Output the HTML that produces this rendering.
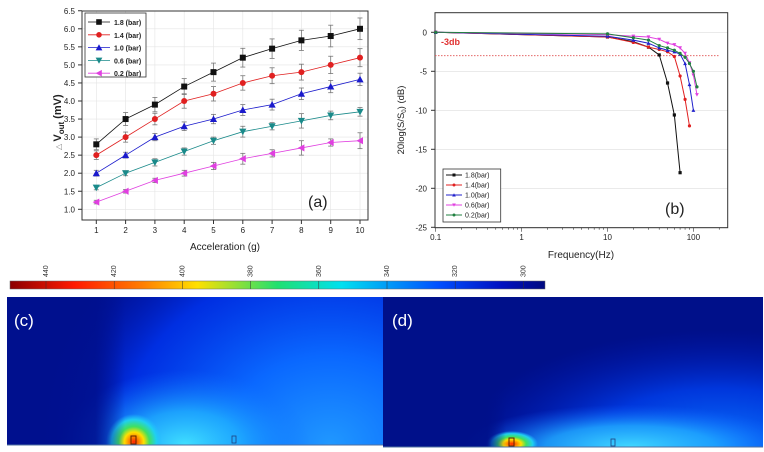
<!DOCTYPE html>
<html><head><meta charset="utf-8"><style>
body{margin:0;background:#fff;}
svg{display:block;font-family:"Liberation Sans",sans-serif;}
</style></head><body>
<svg id="fig" width="764" height="452" viewBox="0 0 764 452" xmlns="http://www.w3.org/2000/svg">
<defs>
<linearGradient id="cbar" x1="0" x2="1" y1="0" y2="0">
<stop offset="0" stop-color="#8b0000"/><stop offset="0.12" stop-color="#ff1a00"/><stop offset="0.25" stop-color="#ff8000"/><stop offset="0.35" stop-color="#ffe000"/><stop offset="0.5" stop-color="#20e070"/><stop offset="0.62" stop-color="#00e0f0"/><stop offset="0.8" stop-color="#0050ff"/><stop offset="0.92" stop-color="#0010c0"/><stop offset="1" stop-color="#000a80"/>
</linearGradient>
<radialGradient id="cBig" gradientUnits="userSpaceOnUse" cx="330" cy="445" r="300" gradientTransform="translate(330 445) scale(1 0.85) translate(-330 -445)">
<stop offset="0" stop-color="#2098ff"/><stop offset="0.35" stop-color="#0a68ff"/><stop offset="0.7" stop-color="#0034f0" stop-opacity="0.85"/><stop offset="1" stop-color="#0018c0" stop-opacity="0"/>
</radialGradient>
<radialGradient id="cMid" gradientUnits="userSpaceOnUse" cx="185" cy="445" r="125" gradientTransform="translate(185 445) scale(1 0.6) translate(-185 -445)">
<stop offset="0" stop-color="#40e0ff"/><stop offset="0.45" stop-color="#20b0ff" stop-opacity="0.85"/><stop offset="1" stop-color="#1070ff" stop-opacity="0"/>
</radialGradient>
<radialGradient id="cHot" gradientUnits="userSpaceOnUse" cx="134" cy="442" r="28">
<stop offset="0" stop-color="#ff2000"/><stop offset="0.2" stop-color="#ff9000"/><stop offset="0.35" stop-color="#ffe000"/><stop offset="0.55" stop-color="#40e060"/><stop offset="0.8" stop-color="#20d0f0"/><stop offset="1" stop-color="#20c0ff" stop-opacity="0"/>
</radialGradient>
<linearGradient id="cLeft" gradientUnits="userSpaceOnUse" x1="7" x2="125" y1="0" y2="0">
<stop offset="0" stop-color="#00108e"/><stop offset="0.75" stop-color="#00108e" stop-opacity="0.85"/><stop offset="1" stop-color="#00108e" stop-opacity="0"/>
</linearGradient>
<radialGradient id="dBig" gradientUnits="userSpaceOnUse" cx="720" cy="447" r="260" gradientTransform="translate(720 447) scale(1 0.45) translate(-720 -447)">
<stop offset="0" stop-color="#0a78ff"/><stop offset="0.5" stop-color="#0040f0" stop-opacity="0.8"/><stop offset="1" stop-color="#0018c0" stop-opacity="0"/>
</radialGradient>
<radialGradient id="dMid" gradientUnits="userSpaceOnUse" cx="630" cy="447" r="170" gradientTransform="translate(630 447) scale(1 0.25) translate(-630 -447)">
<stop offset="0" stop-color="#40d8ff"/><stop offset="0.5" stop-color="#20a8ff" stop-opacity="0.85"/><stop offset="1" stop-color="#1060ff" stop-opacity="0"/>
</radialGradient>
<radialGradient id="dHot" gradientUnits="userSpaceOnUse" cx="512" cy="444" r="26" gradientTransform="translate(512 444) scale(1 0.5) translate(-512 -444)">
<stop offset="0" stop-color="#ff2000"/><stop offset="0.2" stop-color="#ff9000"/><stop offset="0.35" stop-color="#ffe000"/><stop offset="0.55" stop-color="#40e060"/><stop offset="0.8" stop-color="#20d0f0"/><stop offset="1" stop-color="#20c0ff" stop-opacity="0"/>
</radialGradient>
<linearGradient id="dLeft" gradientUnits="userSpaceOnUse" x1="383" x2="506" y1="0" y2="0">
<stop offset="0" stop-color="#00108a"/><stop offset="0.85" stop-color="#00108a" stop-opacity="0.9"/><stop offset="1" stop-color="#00108a" stop-opacity="0"/>
</linearGradient>
</defs>

<!-- colorbar -->
<g>
<rect x="10" y="281" width="535" height="8" fill="url(#cbar)" stroke="#666" stroke-width="0.5"/>
<g id="cbticks" font-size="7" fill="#333"></g>
</g>

<!-- panel c -->
<g>
<rect x="7" y="297" width="376" height="148" fill="#00108e"/>
<rect x="7" y="297" width="376" height="148" fill="url(#cBig)"/>
<rect x="7" y="297" width="376" height="148" fill="url(#cMid)"/>
<rect x="7" y="297" width="376" height="148" fill="url(#cHot)"/>
<rect x="7" y="297" width="125" height="148" fill="url(#cLeft)"/>
<rect x="131" y="436" width="5" height="8" fill="none" stroke="#602000" stroke-width="1"/>
<rect x="232" y="436" width="4" height="7" fill="none" stroke="#204080" stroke-width="0.8"/>
<line x1="7" y1="445" x2="383" y2="445" stroke="#5070a0"/>
<text x="14" y="326" font-size="17" fill="#fff">(c)</text>
</g>
<!-- panel d -->
<g>
<rect x="383" y="297" width="380" height="150" fill="#00108a"/>
<rect x="383" y="297" width="380" height="150" fill="url(#dBig)"/>
<rect x="383" y="297" width="380" height="150" fill="url(#dMid)"/>
<rect x="383" y="297" width="380" height="150" fill="url(#dHot)"/>
<rect x="383" y="297" width="124" height="150" fill="url(#dLeft)"/>
<rect x="509" y="438" width="5" height="8" fill="none" stroke="#602000" stroke-width="1"/>
<rect x="611" y="439" width="4" height="7" fill="none" stroke="#204080" stroke-width="0.8"/>
<line x1="383" y1="447" x2="763" y2="447" stroke="#5070a0"/>
<text x="392" y="326" font-size="17" fill="#fff">(d)</text>
</g>

<g id="chartA"></g>
<g id="chartB"></g>
</svg>
<script>
// ---------- chart (a) data ----------
const accelCategories = [1,2,3,4,5,6,7,8,9,10];
const aSeriesNames = ["1.8 (bar)","1.4 (bar)","1.0 (bar)","0.6 (bar)","0.2 (bar)"];
const v18 = [2.8,3.5,3.9,4.4,4.8,5.2,5.45,5.68,5.8,6.0];
const v14 = [2.5,3.0,3.5,4.0,4.2,4.5,4.7,4.8,5.0,5.2];
const v10 = [2.0,2.5,3.0,3.3,3.5,3.75,3.9,4.2,4.4,4.6];
const v06 = [1.6,2.0,2.3,2.6,2.9,3.15,3.3,3.45,3.6,3.7];
const v02 = [1.2,1.5,1.8,2.0,2.2,2.4,2.55,2.7,2.85,2.9];
const e18 = [0.15,0.18,0.2,0.22,0.25,0.26,0.27,0.28,0.3,0.3];
const e14 = [0.12,0.14,0.16,0.2,0.2,0.2,0.22,0.22,0.24,0.25];
const e10 = [0.08,0.08,0.1,0.12,0.13,0.15,0.15,0.16,0.17,0.17];
const e06 = [0.06,0.07,0.1,0.1,0.1,0.15,0.1,0.2,0.12,0.12];
const e02 = [0.05,0.05,0.06,0.08,0.1,0.15,0.1,0.2,0.1,0.22];
const aYTicks = [1.0,1.5,2.0,2.5,3.0,3.5,4.0,4.5,5.0,5.5,6.0,6.5];
// ---------- chart (b) data ----------
const bSeriesNames = ["1.8(bar)","1.4(bar)","1.0(bar)","0.6(bar)","0.2(bar)"];
const f18 = [0.1,10,20,30,40,50,60,70];
const d18 = [0,-0.6,-1.2,-1.9,-2.9,-6.5,-10.6,-18];
const f14 = [0.1,10,20,30,40,50,60,70,80,90];
const d14 = [0,-0.6,-1.3,-1.9,-2.2,-2.5,-3.1,-5.6,-8.6,-12];
const f10 = [0.1,10,20,30,40,50,60,70,80,90,100];
const d10 = [0,-0.5,-1.0,-1.4,-2.0,-2.3,-2.5,-2.8,-4.0,-6.7,-10];
const f06 = [0.1,10,20,30,40,50,60,70,80,90,100,110];
const d06 = [0,-0.3,-0.5,-0.6,-0.9,-1.4,-1.6,-2.0,-2.7,-3.9,-5.5,-8];
const f02 = [0.1,10,20,30,40,50,60,70,80,90,100,110];
const d02 = [0,-0.2,-0.7,-1.0,-1.7,-2.0,-2.3,-2.7,-3.2,-4.0,-5.0,-7.0];
const bYTicks = [0,-5,-10,-15,-20,-25];
const bXTicks = [0.1,1,10,100];
const cbLabels = [440,420,400,380,360,340,320,300];

const NS="http://www.w3.org/2000/svg";
function mk(tag,attrs,parent,text){const e=document.createElementNS(NS,tag);for(const k in attrs)e.setAttribute(k,attrs[k]);if(text!==undefined)e.textContent=text;parent.appendChild(e);return e;}

// colorbar labels
const cbt=document.getElementById('cbticks');
cbLabels.forEach((v,i)=>{const x=46+i*68.2;
 const t=mk('text',{x:0,y:0,transform:`translate(${x+2},277) rotate(-90)`},cbt,String(v));
 
 
 mk('line',{x1:x,y1:281,x2:x,y2:289,stroke:'#333','stroke-width':0.5},cbt);});

// ---- chart a ----
const A=document.getElementById('chartA');
const ax=v=>96.3+(v-1)*29.3, ay=v=>209.3-(v-1)*36.1;
mk('rect',{x:82,y:11,width:286,height:209,fill:'#fff',stroke:'#333','stroke-width':1},A);
aYTicks.forEach(v=>{const y=ay(v);
 mk('line',{x1:82,y1:y,x2:368,y2:y,stroke:'#e4e4e4','stroke-width':0.6},A);
 mk('line',{x1:78,y1:y,x2:82,y2:y,stroke:'#333'},A);
 const t=mk('text',{x:75,y:y+3,'font-size':8,'text-anchor':'end',fill:'#222'},A,v.toFixed(1));
 
 });
accelCategories.forEach(c=>{const x=ax(c);
 mk('line',{x1:x,y1:11,x2:x,y2:220,stroke:'#e4e4e4','stroke-width':0.6},A);
 mk('line',{x1:x,y1:220,x2:x,y2:224,stroke:'#333'},A);
 const t=mk('text',{x:x,y:233,'font-size':8,'text-anchor':'middle',fill:'#222'},A,String(c));
 
 });
mk('rect',{x:82,y:11,width:286,height:209,fill:'none',stroke:'#333','stroke-width':1},A);
let t=mk('text',{x:225,y:250,'font-size':10,'text-anchor':'middle',fill:'#222'},A,'Acceleration (g)');

t=mk('text',{x:0,y:0,transform:'translate(61,150) rotate(-90)','font-size':11,'font-weight':'bold',fill:'#222'},A);
t.innerHTML='<tspan font-size="8" font-weight="normal" fill="#888">△ </tspan><tspan>V</tspan><tspan font-size="8" baseline-shift="-3">out</tspan><tspan> (mV)</tspan>';

t=mk('text',{x:308,y:207,'font-size':16,fill:'#222'},A,'(a)');


function marker(g,shape,x,y,col,s){
 if(shape==='sq')return mk('rect',{x:x-s,y:y-s,width:2*s,height:2*s,fill:col},g);
 if(shape==='ci')return mk('circle',{cx:x,cy:y,r:s,fill:col},g);
 let p;
 if(shape==='up')p=[[x,y-s*1.2],[x-s*1.2,y+s],[x+s*1.2,y+s]];
 if(shape==='dn')p=[[x,y+s*1.2],[x-s*1.2,y-s],[x+s*1.2,y-s]];
 if(shape==='lf')p=[[x-s*1.2,y],[x+s,y-s*1.2],[x+s,y+s*1.2]];
 return mk('polygon',{points:p.map(q=>q.join(',')).join(' '),fill:col},g);
}
const aVals=[v18,v14,v10,v06,v02], aErr=[e18,e14,e10,e06,e02];
const aCols=['#111','#e02020','#1a1acc','#1a8a8a','#e040e0'];
const aShapes=['sq','ci','up','dn','lf'];
aVals.forEach((vals,si)=>{
 const g=mk('g',{},A);
 
 
 mk('polyline',{points:vals.map((v,i)=>ax(accelCategories[i])+','+ay(v)).join(' '),fill:'none',stroke:aCols[si],'stroke-width':0.8},g);
 vals.forEach((v,i)=>{const x=ax(accelCategories[i]),e=aErr[si][i];
  mk('line',{x1:x,y1:ay(v-e),x2:x,y2:ay(v+e),stroke:'#777','stroke-width':0.8},g);
  mk('line',{x1:x-2.5,y1:ay(v-e),x2:x+2.5,y2:ay(v-e),stroke:'#777','stroke-width':0.8},g);
  mk('line',{x1:x-2.5,y1:ay(v+e),x2:x+2.5,y2:ay(v+e),stroke:'#777','stroke-width':0.8},g);
  const m=marker(g,aShapes[si],x,ay(v),aCols[si],3);
  
  });
});
const LA=mk('g',{},A);

mk('rect',{x:85,y:13,width:61,height:64,fill:'#fff',stroke:'#333','stroke-width':0.8},LA);
aSeriesNames.forEach((n,i)=>{const y=22+i*12.8;
 const e=mk('g',{},LA);
 
 mk('line',{x1:88,y1:y,x2:110,y2:y,stroke:aCols[i],'stroke-width':0.8},e);
 marker(e,aShapes[i],99,y,aCols[i],2.8);
 mk('text',{x:114,y:y+3,'font-size':7,'font-weight':'bold',fill:'#222'},e,n);});

// ---- chart b ----
const B=document.getElementById('chartB');
const bx=f=>435.7+(Math.log10(f)+1)*85.9, by=v=>32.3-v*7.8;
mk('rect',{x:435,y:12.7,width:292.7,height:215,fill:'#fff'},B);
bYTicks.forEach(v=>{const y=by(v);
 mk('line',{x1:435,y1:y,x2:727.7,y2:y,stroke:'#ddd','stroke-width':0.7},B);
 mk('line',{x1:431,y1:y,x2:435,y2:y,stroke:'#333'},B);
 const t=mk('text',{x:427,y:y+3,'font-size':8,'text-anchor':'end',fill:'#222'},B,String(v));
 });
for(let d=-1;d<=2;d++)for(let k=1;k<10;k++){const f=k*Math.pow(10,d);if(f>250)break;const x=bx(f);
 mk('line',{x1:x,y1:227.7,x2:x,y2:k===1?231.7:229.7,stroke:'#333','stroke-width':0.6},B);}
bXTicks.forEach(f=>{const t=mk('text',{x:bx(f),y:240,'font-size':8,'text-anchor':'middle',fill:'#222'},B,String(f));
 });
mk('rect',{x:435,y:12.7,width:292.7,height:215,fill:'none',stroke:'#333','stroke-width':1},B);
mk('line',{x1:435,y1:by(-3),x2:720,y2:by(-3),stroke:'#e05050','stroke-width':0.8,'stroke-dasharray':'1.5,1.5'},B);
t=mk('text',{x:441,y:45,'font-size':9,'font-weight':'bold',fill:'#e03030'},B,'-3db');

t=mk('text',{x:581,y:258,'font-size':10,'text-anchor':'middle',fill:'#222'},B,'Frequency(Hz)');

t=mk('text',{x:0,y:0,transform:'translate(404,120) rotate(-90)','font-size':9.5,'text-anchor':'middle',fill:'#222'},B);
t.innerHTML='20log(S/S<tspan font-size="6" dy="2">0</tspan><tspan dy="-2">) (dB)</tspan>';

t=mk('text',{x:665,y:214,'font-size':16,fill:'#222'},B,'(b)');

const bF=[f18,f14,f10,f06,f02], bD=[d18,d14,d10,d06,d02];
const bCols=['#111','#e02020','#2020cc','#e040e0','#208040'];
const bShapes=['sq','ci','up','dn','ci'];
bD.forEach((vals,si)=>{
 const g=mk('g',{},B);
 
 
 mk('polyline',{points:vals.map((v,i)=>bx(bF[si][i])+','+by(v)).join(' '),fill:'none',stroke:bCols[si],'stroke-width':1},g);
 vals.forEach((v,i)=>{const m=marker(g,bShapes[si],bx(bF[si][i]),by(v),bCols[si],1.6);
  
  });
});
const LB=mk('g',{},B);

mk('rect',{x:443,y:169,width:57.7,height:53,fill:'#fff',stroke:'#333','stroke-width':0.8},LB);
bSeriesNames.forEach((n,i)=>{const y=175+i*10;
 const e=mk('g',{},LB);
 
 mk('line',{x1:446,y1:y,x2:462,y2:y,stroke:bCols[i],'stroke-width':1},e);
 marker(e,bShapes[i],454,y,bCols[i],1.5);
 mk('text',{x:465,y:y+2.5,'font-size':7,fill:'#222'},e,n);});
</script>
</body></html>
